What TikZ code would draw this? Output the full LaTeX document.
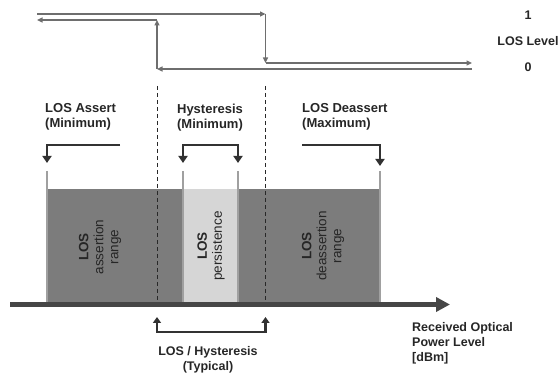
\documentclass[tikz,border=0pt]{standalone}
\usepackage{fontspec}
\setmainfont{Liberation Sans}
\usetikzlibrary{arrows.meta}
\definecolor{wavec}{RGB}{110,110,110}
\definecolor{brkc}{RGB}{50,50,50}
\definecolor{axisc}{RGB}{70,70,70}
\definecolor{bardark}{RGB}{124,124,124}
\definecolor{barlight}{RGB}{214,214,214}
\definecolor{edgec}{RGB}{160,160,160}
\definecolor{dashc}{RGB}{40,40,40}
\begin{document}
\begin{tikzpicture}[x=1pt,y=-1pt,
  wave/.style={draw=wavec, line width=1.8pt, -{Triangle[length=5.5pt,width=5pt]}},
  brk/.style={draw=brkc, line width=2.8pt},
  brktip/.style={-{Triangle[length=7pt,width=9pt]}},
  brktips/.style={{Triangle[length=7pt,width=9pt]}-{Triangle[length=7pt,width=9pt]}},
  lbl/.style={font=\fontsize{12.5}{15}\selectfont\bfseries, text=black!85, inner sep=0pt, align=left},
  toplbl/.style={lbl, font=\fontsize{13}{15}\selectfont\bfseries},
  rlbl/.style={font=\fontsize{13.5}{15}\selectfont, text=black!85, inner sep=0pt, align=center, rotate=90},
  edge/.style={draw=edgec, line width=2pt},
  sep/.style={draw=dashc, line width=0.8pt, dash pattern=on 4pt off 3pt},
  axisline/.style={draw=axisc, line width=4.5pt, -{Triangle[length=14pt,width=14pt]}}
]
\useasboundingbox (0,0) rectangle (560,374);

% coordinates of the top waveform
\coordinate (u0) at (37,14);
\coordinate (u1) at (265.5,14);
\coordinate (u2) at (265.5,63);
\coordinate (u3) at (472,63);
\coordinate (l0) at (472,69);
\coordinate (l1) at (157,69);
\coordinate (l2) at (157,20);
\coordinate (l3) at (37,20);

% bars
\fill[bardark] (47,189) rectangle (380,304);
\fill[barlight] (183,189) rectangle (238,304);

% bar edges
\coordinate (e1t) at (47,171);   \coordinate (e1b) at (47,304);
\coordinate (e2t) at (183,171);  \coordinate (e2b) at (183,304);
\coordinate (e3t) at (238,171);  \coordinate (e3b) at (238,304);
\coordinate (e4t) at (380,171);  \coordinate (e4b) at (380,304);
\draw[edge] (e1t) -- (e1b);
\draw[edge] (e2t) -- (e2b);
\draw[edge] (e3t) -- (e3b);
\draw[edge] (e4t) -- (e4b);

% dashed separators
\coordinate (d1t) at (157,86);   \coordinate (d1b) at (157,302);
\coordinate (d2t) at (265.5,86); \coordinate (d2b) at (265.5,302);
\draw[sep] (d1t) -- (d1b);
\draw[sep] (d2t) -- (d2b);

% waveform
\draw[wave] (u0) -- (u1);
\draw[wave] (u1) -- (u2);
\draw[wave] (u2) -- (u3);
\draw[wave] (l0) -- (l1);
\draw[wave] (l1) -- (l2);
\draw[wave] (l2) -- (l3);

\node[lbl] (one) at (528,15) {1};
\node[lbl] (lvl) at (528,41) {LOS Level};
\node[lbl] (zero) at (528,67) {0};

% axis
\coordinate (ax0) at (10,304.5);
\coordinate (ax1) at (450,304.5);
\draw[axisline] (ax0) -- (ax1);

% top labels
\node[toplbl, anchor=north west] (assert) at (45,103.5) {LOS Assert\\(Minimum)};
\node[toplbl, anchor=north, align=center] (hyst) at (210,103.5) {Hysteresis\\(Minimum)};
\node[toplbl, anchor=north west] (deassert) at (302,103.5) {LOS Deassert\\(Maximum)};

% top brackets
\coordinate (a1) at (120,145); \coordinate (a2) at (47,145); \coordinate (a3) at (47,163);
\draw[brk, brktip] (a1) -- (a2) -- (a3);
\coordinate (h0) at (183,163); \coordinate (h1) at (183,145);
\coordinate (h2) at (238,145); \coordinate (h3) at (238,163);
\draw[brk, brktips] (h0) -- (h1) -- (h2) -- (h3);
\coordinate (q1) at (302,145); \coordinate (q2) at (380,145); \coordinate (q3) at (380,166);
\draw[brk, brktip] (q1) -- (q2) -- (q3);

% bottom bracket
\coordinate (b0) at (157,317); \coordinate (b1) at (157,332);
\coordinate (b2) at (265.5,332); \coordinate (b3) at (265.5,317);
\draw[brk, line width=2.6pt, {Triangle[length=6pt,width=8pt]}-{Triangle[length=6pt,width=8pt]}] (b0) -- (b1) -- (b2) -- (b3);

\node[lbl, anchor=north, align=center] (typ) at (208,346.5) {LOS / Hysteresis\\(Typical)};
\node[lbl, anchor=north west] (rx) at (412,322.5) {Received Optical\\Power Level\\{[dBm]}};

% rotated labels
\node[rlbl] (r1) at (100,247) {\textbf{LOS}\\assertion\\range};
\node[rlbl] (r2) at (211,246) {\textbf{LOS}\\persistence};
\node[rlbl] (r3) at (323,246) {\textbf{LOS}\\deassertion\\range};
\end{tikzpicture}
\end{document}
